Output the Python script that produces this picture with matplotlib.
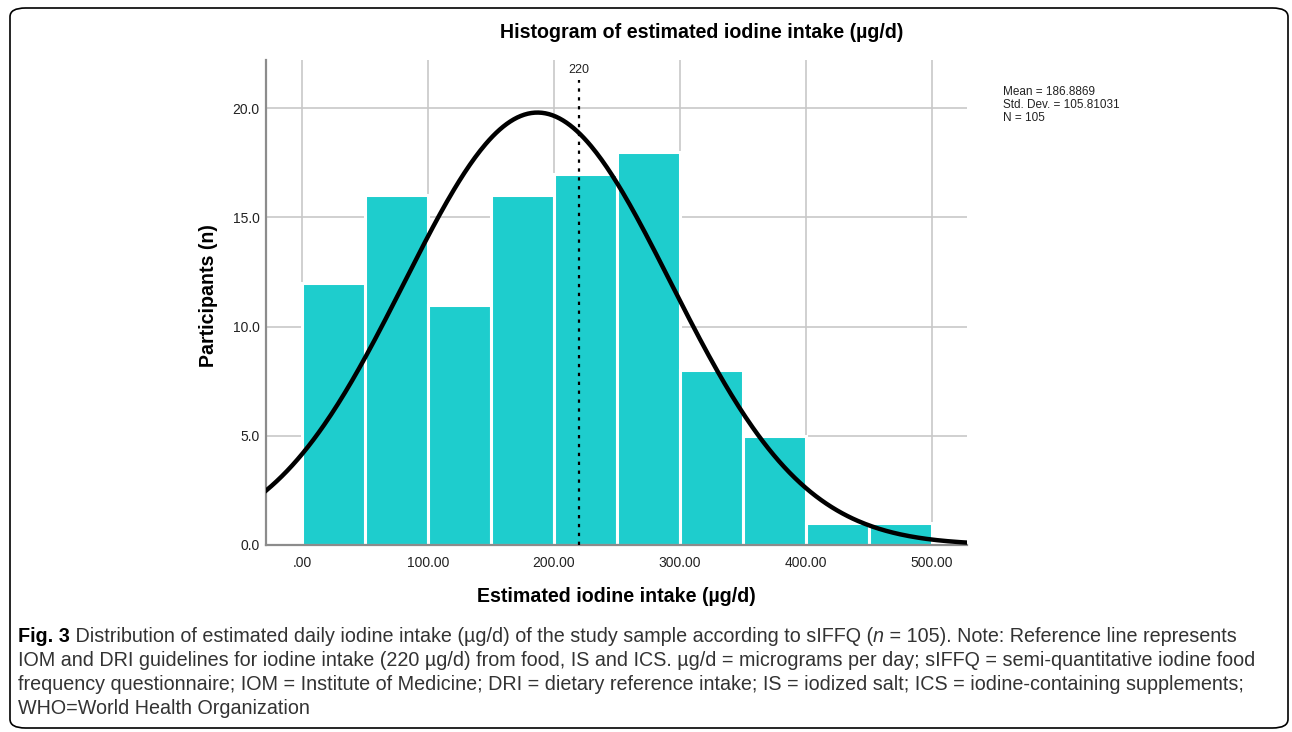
import numpy as np
import matplotlib
matplotlib.use("Agg")
from matplotlib import pyplot as plt
from matplotlib.patches import FancyBboxPatch

# histogram data (bins of 50 ug/d)
bin_edges = [0, 50, 100, 150, 200, 250, 300, 350, 400, 450, 500]
counts = [12, 16, 11, 16, 17, 18, 8, 5, 1, 1]

# summary statistics printed on the chart
mean_val = 186.8869
sd_val = 105.81031
n_val = 105
ref_line = 220

x_ticks = [0, 100, 200, 300, 400, 500]
x_ticklabels = [".00", "100.00", "200.00", "300.00", "400.00", "500.00"]
y_ticks = [0, 5, 10, 15, 20]
y_ticklabels = ["0.0", "5.0", "10.0", "15.0", "20.0"]

caption_lines = [
    [("Fig. 3", "bold", "normal"),
     (" Distribution of estimated daily iodine intake (µg/d) of the study "
      "sample according to sIFFQ (", "normal", "normal"),
     ("n", "normal", "italic"),
     (" = 105). Note: Reference line represents", "normal", "normal")],
    [("IOM and DRI guidelines for iodine intake (220 µg/d) from food, IS and "
      "ICS. µg/d = micrograms per day; sIFFQ = semi-quantitative iodine food",
      "normal", "normal")],
    [("frequency questionnaire; IOM = Institute of Medicine; DRI = dietary "
      "reference intake; IS = iodized salt; ICS = iodine-containing "
      "supplements;", "normal", "normal")],
    [("WHO=World Health Organization", "normal", "normal")],
]

W, H = 1292, 732
plt.rcParams["font.family"] = ["Liberation Sans", "DejaVu Sans"]

fig = plt.figure(figsize=(W / 100, H / 100), dpi=100)

# outer rounded frame
frame = FancyBboxPatch((10 / W, 4 / H), 1278 / W, 720 / H,
                       boxstyle="round,pad=0,rounding_size=0.012",
                       transform=fig.transFigure, fill=False,
                       edgecolor="black", linewidth=1.2)
fig.patches.append(frame)

# axes placed by pixel positions
left, right, top, bottom = 266, 967, 60, 545
ax = fig.add_axes([left / W, (H - bottom) / H, (right - left) / W,
                   (bottom - top) / H])

widths = np.diff(bin_edges)
ax.bar(bin_edges[:-1], counts, width=widths, align="edge",
       color="#1ECDCD", edgecolor="white", linewidth=2.2, zorder=2)

# fitted normal curve
xs = np.linspace(-28.6, 527.8, 400)
scale = n_val * widths[0] / (sd_val * np.sqrt(2 * np.pi))
ys = scale * np.exp(-0.5 * ((xs - mean_val) / sd_val) ** 2)
ax.plot(xs, ys, color="black", linewidth=3.2, zorder=4)

# reference line
ax.plot([ref_line, ref_line], [0, 21.3], color="black",
        linestyle=(0, (1.5, 2.5)), linewidth=1.6, zorder=5)
ax.text(ref_line, 21.45, "220", ha="center", va="bottom", fontsize=9,
        color="#222222")

ax.set_xlim(-28.6, 527.8)
ax.set_ylim(0, 22.2)
ax.set_xticks(x_ticks)
ax.set_xticklabels(x_ticklabels, fontsize=10, color="#222222")
ax.set_yticks(y_ticks)
ax.set_yticklabels(y_ticklabels, fontsize=10, color="#222222")
ax.tick_params(axis="x", length=0, pad=8)
ax.tick_params(axis="y", length=0, pad=4.5)
ax.grid(True, color="#C8C8C8", linewidth=1.2, zorder=0)
ax.set_axisbelow(True)
for side in ["top", "right"]:
    ax.spines[side].set_visible(False)
for side in ["left", "bottom"]:
    ax.spines[side].set_color("#8C8C8C")
    ax.spines[side].set_linewidth(1.6)

# titles and labels
fig.text(702 / W, 1 - 33 / H, "Histogram of estimated iodine intake (µg/d)",
         ha="center", va="center", fontsize=14.1, fontweight="bold")
fig.text(616 / W, 1 - 597 / H, "Estimated iodine intake (µg/d)",
         ha="center", va="center", fontsize=14.1, fontweight="bold")
fig.text(209 / W, 1 - 296 / H, "Participants (n)", ha="center", va="center",
         rotation=90, fontsize=14.1, fontweight="bold")

# statistics box text
fig.text(1003 / W, 1 - 86 / H,
         f"Mean = {mean_val:.4f}\nStd. Dev. = {sd_val:.5f}\nN = {n_val}",
         ha="left", va="top", fontsize=8.5, linespacing=1.12,
         color="#222222")

# caption, drawn run by run
renderer = fig.canvas.get_renderer()
for i, runs in enumerate(caption_lines):
    x = 18 / W
    y = 1 - (636 + 24 * i) / H
    for txt, weight, style in runs:
        t = fig.text(x, y, txt, ha="left", va="center", fontsize=14.2,
                     fontweight=weight, fontstyle=style,
                     color="black" if weight == "bold" else "#333333")
        bb = t.get_window_extent(renderer)
        x += bb.width / W

fig.savefig("out.png", dpi=100)
